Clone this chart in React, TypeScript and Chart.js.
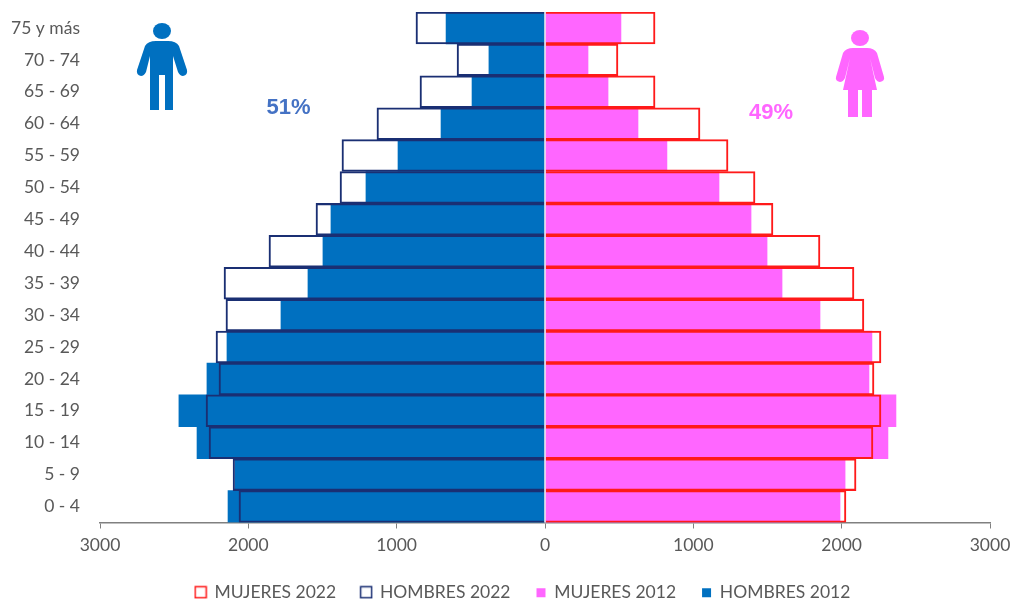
import { useEffect, useRef } from "react";
import { Chart, registerables } from "chart.js";

Chart.register(...registerables);

const ageGroups = ["75 y más", "70 - 74", "65 - 69", "60 - 64", "55 - 59", "50 - 54", "45 - 49", "40 - 44", "35 - 39", "30 - 34", "25 - 29", "20 - 24", "15 - 19", "10 - 14", "5 - 9", "0 - 4"];
const mujeres2022 = [742, 492, 742, 1045, 1234, 1416, 1537, 1854, 2083, 2150, 2265, 2218, 2265, 2211, 2097, 2029];
const hombres2022 = [-870, -593, -843, -1133, -1369, -1382, -1544, -1861, -2164, -2151, -2218, -2198, -2285, -2265, -2103, -2063];
const mujeres2012 = [512, 290, 425, 627, 822, 1173, 1389, 1497, 1598, 1854, 2204, 2184, 2366, 2312, 2023, 1989];
const hombres2012 = [-667, -378, -492, -701, -991, -1207, -1443, -1497, -1598, -1780, -2144, -2279, -2468, -2346, -2090, -2137];

const BLUE = "#0070C0";
const PINK = "#FF66FF";
const RED = "#FF1A1A";
const NAVY = "#1A2F73";
const TEXT = "#595959";
const FONT = "Lato, 'Noto Sans', sans-serif";

// Legend swatch: an outlined square for 2022 series, a smaller solid square for 2012 series.
function swatch(color: string, outlined: boolean): HTMLCanvasElement {
  const c = document.createElement("canvas");
  c.width = 14;
  c.height = 14;
  const g = c.getContext("2d")!;
  if (outlined) {
    g.strokeStyle = color;
    g.lineWidth = 1.5;
    g.strokeRect(1.5, 1.5, 11, 11);
  } else {
    g.fillStyle = color;
    g.fillRect(3, 3, 9, 9);
  }
  return c;
}

// Divider on the zero value, the two share labels, and a small rightward legend offset.
const overlayPlugin = {
  id: "overlay",
  afterLayout(chart: any) {
    chart.legend.left += 28;
    chart.legend.right += 28;
  },
  afterDatasetsDraw(chart: any) {
    const { ctx, scales, chartArea } = chart;
    const zero = scales.x.getPixelForValue(0);
    ctx.save();
    ctx.strokeStyle = "#E8E8E8";
    ctx.lineWidth = 1.5;
    ctx.beginPath();
    ctx.moveTo(zero, chartArea.top);
    ctx.lineTo(zero, chartArea.bottom);
    ctx.stroke();
    ctx.font = "bold 22px 'Liberation Sans', sans-serif";
    ctx.textAlign = "center";
    ctx.textBaseline = "middle";
    ctx.fillStyle = "#4472C4";
    ctx.fillText("51%", 288.5, 107.5);
    ctx.fillStyle = PINK;
    ctx.fillText("49%", 771, 112.5);
    ctx.restore();
  },
};

export default function App() {
  const ref = useRef<HTMLCanvasElement>(null);

  useEffect(() => {
    const outline = { backgroundColor: "transparent", borderWidth: 1.4, grouped: false, barPercentage: 1, categoryPercentage: 1 };
    const solid = { borderWidth: 0, grouped: false, barPercentage: 1, categoryPercentage: 1 };
    const chart = new Chart(ref.current!, {
      type: "bar",
      data: {
        labels: ageGroups,
        datasets: [
          { label: "MUJERES 2022", data: mujeres2022, borderColor: RED, ...outline },
          { label: "HOMBRES 2022", data: hombres2022, borderColor: NAVY, ...outline },
          { label: "MUJERES 2012", data: mujeres2012, backgroundColor: PINK, ...solid },
          { label: "HOMBRES 2012", data: hombres2012, backgroundColor: BLUE, ...solid },
        ],
      } as any,
      options: {
        indexAxis: "y",
        animation: false,
        responsive: false,
        layout: { padding: { left: 0, right: 20, top: 12, bottom: -10 } },
        scales: {
          x: {
            min: -3000,
            max: 3000,
            afterFit: (s: any) => {
              s.paddingLeft = 0;
              s.paddingRight = 0;
              s.height = 36;
            },
            ticks: {
              stepSize: 1000,
              color: TEXT,
              font: { family: FONT, size: 17.5 },
              padding: 6,
              maxRotation: 0,
              callback: (v: any) => String(Math.abs(Number(v))),
            },
            grid: { drawOnChartArea: false, drawTicks: true, tickLength: 6, color: "#808080" },
            border: { color: "#808080", width: 1.5 },
          },
          y: {
            afterFit: (s: any) => {
              s.width = 100;
              s.paddingTop = 0;
              s.paddingBottom = 0;
            },
            ticks: { color: TEXT, font: { family: FONT, size: 17.5 }, padding: 20, autoSkip: false },
            grid: { display: false, drawTicks: false },
            border: { display: false },
          },
        },
        plugins: {
          tooltip: { enabled: false },
          legend: {
            position: "bottom",
            labels: {
              usePointStyle: true,
              pointStyleWidth: 10,
              boxHeight: 14,
              padding: 25,
              color: TEXT,
              font: { family: FONT, size: 17.5 },
              generateLabels: (c: any) =>
                c.data.datasets.map((d: any, i: number) => ({
                  text: d.label,
                  datasetIndex: i,
                  pointStyle: i < 2 ? swatch(d.borderColor, true) : swatch(d.backgroundColor, false),
                  fontColor: TEXT,
                  lineWidth: 0,
                })),
            },
          },
        },
      } as any,
      plugins: [overlayPlugin],
    });
    return () => chart.destroy();
  }, []);

  return (
    <div style={{ position: "absolute", left: 0, top: 0, width: 1010, height: 601, background: "#fff" }}>
      <canvas ref={ref} width={1010} height={601} style={{ display: "block" }} />
      <svg width={1010} height={601} style={{ position: "absolute", left: 0, top: 0, pointerEvents: "none" }}>
        <g fill={BLUE}>
          <ellipse cx={162} cy={31} rx={9} ry={8} />
          <path d="M145 46 Q148 41 156 41 L168 41 Q176 41 179 46 L187 70 Q188 75 183 76 Q180 76 178 72 L173 56 L173 110 L165 110 L165 75 L159 75 L159 110 L150 110 L150 56 L146 72 Q144 76 141 76 Q136 75 137 70 Z" />
        </g>
        <g fill={PINK}>
          <ellipse cx={860} cy={38} rx={9} ry={8} />
          <path d="M843 53 Q846 48 853 48 L867 48 Q874 48 877 53 L884 77 Q885 81 880 82 Q877 82 875 78 L870 58 L877 90 L872 90 L872 117 L862 117 L862 90 L858 90 L858 117 L848 117 L848 90 L843 90 L850 58 L845 78 Q843 82 840 82 Q835 81 836 77 Z" />
        </g>
      </svg>
    </div>
  );
}
